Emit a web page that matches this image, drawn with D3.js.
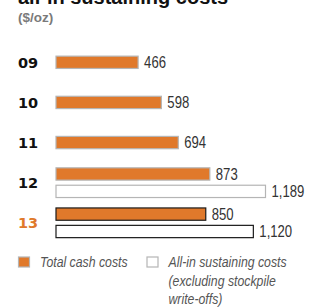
<!DOCTYPE html>
<html>
<head>
<meta charset="utf-8">
<script src="https://cdn.jsdelivr.net/npm/d3@7"></script>
<style>
  body { margin: 0; background: #fff; }
  svg { display: block; }
</style>
</head>
<body>
<div id="chart"></div>
<script>
const years = ["09", "10", "11", "12", "13"];
const cashCosts = [466, 598, 694, 873, 850];
const aiscCosts = [null, null, null, 1189, 1120];
const seriesNames = ["Total cash costs", "All-in sustaining costs"];
const legendSub = ["(excluding stockpile", "write-offs)"];

const width = 315, height = 307;
const orange = "#e0792b";
const sans = "'Liberation Sans', Arial, sans-serif";
const squeeze = 0.82; // no narrow face installed, squeeze the regular one

const svg = d3.select("#chart").append("svg")
  .attr("width", width)
  .attr("height", height);

// title, cut off at the top of the frame like the source
svg.append("text")
  .attr("x", 18)
  .attr("y", 4)
  .attr("fill", "#111")
  .style("font-family", sans)
  .style("font-weight", "bold")
  .style("font-size", "20px")
  .text("all-in sustaining costs");

svg.append("text")
  .attr("x", 18)
  .attr("y", 22)
  .attr("fill", "#7a7a7a")
  .style("font-family", sans)
  .style("font-weight", "bold")
  .style("font-size", "13.5px")
  .text("($/oz)");

const x = d3.scaleLinear()
  .domain([0, d3.max(aiscCosts)])
  .range([56, 265.5]);

const y = d3.scalePoint()
  .domain(years)
  .range([62.3, 222.8]);

const barH = 12.3;
const offset = 8.7;

const rows = [];
years.forEach((yr, i) => {
  const hasTwo = aiscCosts[i] != null;
  const last = i === years.length - 1;
  rows.push({ year: yr, value: cashCosts[i], kind: "cash", cy: y(yr) - (hasTwo ? offset : 0), last });
  if (hasTwo) rows.push({ year: yr, value: aiscCosts[i], kind: "aisc", cy: y(yr) + offset, last });
});

svg.selectAll(".bar")
  .data(rows)
  .enter()
  .append("rect")
  .attr("class", "bar")
  .attr("x", x(0))
  .attr("y", d => d.cy - barH / 2)
  .attr("width", d => x(d.value) - x(0))
  .attr("height", barH)
  .attr("fill", d => d.kind === "cash" ? orange : "#fff")
  .attr("stroke", d => d.last ? "#1a1a1a" : "#b5b5b5")
  .attr("stroke-width", 1.2);

svg.selectAll(".val")
  .data(rows)
  .enter()
  .append("text")
  .attr("class", "val")
  .attr("transform", d => `translate(${x(d.value) + 6}, ${d.cy + 5.8}) scale(${squeeze}, 1)`)
  .attr("fill", "#333")
  .style("font-family", sans)
  .style("font-size", "16px")
  .text(d => d3.format(",")(d.value));

svg.selectAll(".yr")
  .data(years)
  .enter()
  .append("text")
  .attr("class", "yr")
  .attr("x", 18)
  .attr("y", d => y(d) + 5.3)
  .attr("fill", (d, i) => i === years.length - 1 ? orange : "#111")
  .style("font-family", "'DejaVu Sans', sans-serif")
  .style("font-weight", "bold")
  .style("font-size", "14.5px")
  .text(d => d);

// legend
const legend = [
  { x: 18.5, fill: orange, lines: [seriesNames[0]] },
  { x: 147, fill: "#fff", lines: [seriesNames[1]].concat(legendSub) }
];

const lg = svg.selectAll(".lg")
  .data(legend)
  .enter()
  .append("g")
  .attr("class", "lg");

lg.append("rect")
  .attr("x", d => d.x)
  .attr("y", 257)
  .attr("width", 11)
  .attr("height", 10)
  .attr("fill", d => d.fill)
  .attr("stroke", "#b5b5b5")
  .attr("stroke-width", 1.2);

lg.selectAll(".lt")
  .data(d => d.lines.map((l, i) => ({ l, i, x: d.x + 21.5 })))
  .enter()
  .append("text")
  .attr("class", "lt")
  .attr("transform", d => `translate(${d.x}, ${267 + d.i * 18.5}) scale(${squeeze}, 1)`)
  .attr("fill", "#555")
  .style("font-family", sans)
  .style("font-style", "italic")
  .style("font-size", "15px")
  .text(d => d.l);
</script>
</body>
</html>
